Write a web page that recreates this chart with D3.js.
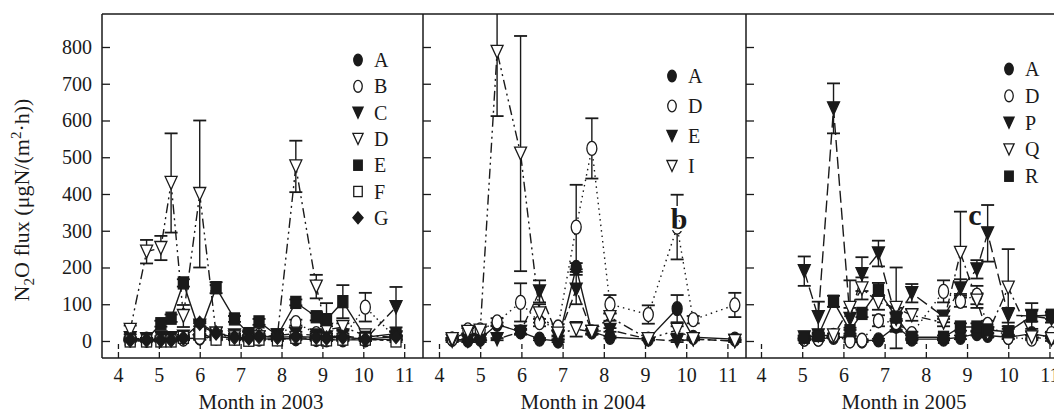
<!DOCTYPE html>
<meta charset="utf-8">
<head>
  <title>N2O flux 2003-2005</title>
</head>
<style>
  body { margin: 0; background: #fff; }
  text { font-family: "Liberation Serif", "DejaVu Serif", serif; fill: #1a1a1a; }
</style>
<body>
<svg id="chart" width="1054" height="415"></svg>
<script src="https://cdnjs.cloudflare.com/ajax/libs/d3/7.8.5/d3.min.js"></script>
<script>
// ---- data ----
var months2003 = [4.3, 4.7, 5.05, 5.3, 5.6, 6.0, 6.4, 6.85, 7.2, 7.45, 7.9, 8.35, 8.85, 9.1, 9.5, 10.05, 10.8];
var a2003 = [3, 2, 3, 4, 6, 8, 12, 8, 6, 5, 6, 6, 4, 3, 3, 3, 5];
var b2003 = [5, 5, 5, 5, 5, 10, 8, 12, 10, 15, 12, 50, 20, 15, 10, 92, 8];
var c2003 = [8, 5, 10, 8, 12, 42, 20, 15, 12, 10, 15, 20, 15, 10, 15, 5, 92];
var d2003 = [30, 243, 253, 430, 68, 400, 20, 10, 8, 10, 15, 475, 148, 30, 38, 15, 10];
var e2003 = [5, 5, 47, 62, 158, 25, 145, 60, 20, 52, 15, 105, 66, 58, 107, 10, 20];
var f2003 = [0, 0, 0, 0, 10, 22, 5, 5, 2, 5, 3, 10, 5, 3, 5, 5, 0];
var g2003 = [3, 3, 3, 3, 8, 48, 22, 10, 8, 12, 10, 12, 10, 8, 10, 5, 12];
var errA2003 = [3, 3, 3, 3, 3, 5, 5, 3, 3, 3, 3, 3, 3, 3, 3, 3, 3];
var errB2003 = [3, 3, 3, 3, 3, 5, 5, 5, 5, 5, 5, 8, 5, 5, 5, 39, 5];
var errC2003 = [3, 3, 3, 3, 5, 10, 5, 5, 5, 5, 5, 5, 5, 5, 5, 5, 55];
var errD2003 = [12, 32, 33, 135, 30, 200, 8, 5, 5, 5, 5, 70, 32, 10, 10, 5, 5];
var errE2003 = [3, 3, 8, 10, 10, 5, 15, 8, 5, 8, 5, 8, 10, 45, 45, 5, 5];
var errF2003 = [2, 2, 2, 2, 3, 5, 3, 3, 3, 3, 3, 3, 3, 3, 3, 3, 3];
var errG2003 = [2, 2, 2, 2, 3, 8, 5, 3, 3, 3, 3, 3, 3, 3, 3, 3, 3];

var months2004 = [4.32, 4.7, 5.0, 5.41, 5.98, 6.44, 6.89, 7.33, 7.71, 8.15, 9.08, 9.78, 10.17, 11.18];
var a2004 = [5, 2, 5, 45, 25, 5, 0, 200, 25, 10, 5, 88, 10, 5];
var d2004 = [5, 30, 30, 52, 105, 50, 38, 310, 524, 100, 72, 310, 58, 98];
var e2004 = [0, 0, 0, 5, 25, 135, 10, 140, 25, 30, 5, 0, 5, 0];
var i2004 = [5, 25, 28, 787, 510, 75, 20, 32, 25, 65, 5, 30, 5, 0];
var errA2004 = [3, 3, 3, 5, 8, 3, 3, 12, 5, 3, 3, 37, 3, 3];
var errD2004 = [3, 10, 10, 10, 52, 10, 8, 115, 82, 25, 25, 88, 10, 33];
var errE2004 = [3, 3, 3, 3, 5, 30, 5, 40, 5, 5, 3, 3, 3, 3];
var errI2004 = [3, 10, 10, 175, 320, 25, 8, 20, 8, 10, 3, 10, 3, 3];

var months2005 = [5.05, 5.39, 5.76, 6.16, 6.45, 6.85, 7.28, 7.66, 8.43, 8.84, 9.24, 9.5, 10.0, 10.57, 11.05];
var a2005 = [5, 5, 10, 10, 0, 3, 40, 5, 5, 10, 20, 15, 10, 20, 10];
var d2005 = [5, 5, 15, 0, 2, 55, 50, 20, 135, 108, 125, 45, 10, 5, 20];
var p2005 = [190, 65, 633, 60, 182, 238, 60, 130, 66, 143, 195, 293, 70, 68, 60];
var q2005 = [10, 15, 15, 90, 143, 105, 90, 70, 50, 240, 110, 20, 145, 10, 5];
var r2005 = [10, 15, 108, 28, 75, 138, 65, 10, 10, 38, 38, 30, 25, 68, 70];
var errA2005 = [3, 3, 3, 3, 3, 3, 15, 3, 3, 5, 5, 5, 3, 5, 3];
var errD2005 = [3, 3, 5, 3, 3, 15, 10, 5, 30, 15, 25, 10, 5, 3, 5];
var errP2005 = [40, 42, 68, 30, 46, 35, 30, 25, 15, 25, 25, 77, 20, 15, 10];
var errQ2005 = [5, 5, 5, 75, 30, 20, 110, 15, 10, 112, 20, 10, 105, 5, 5];
var errR2005 = [3, 3, 15, 8, 10, 20, 10, 5, 5, 10, 10, 8, 8, 35, 10];

var xTicks = [4, 5, 6, 7, 8, 9, 10, 11];
var yTicks = [0, 100, 200, 300, 400, 500, 600, 700, 800];

// ---- layout ----
var svg = d3.select('#chart');
var plotTop = 14, plotBottom = 358;
var y = d3.scaleLinear().domain([-46.3, 889.8]).range([plotBottom, plotTop]);

var panels = [
  { x0: 102, x1: 423, domain: [3.61, 11.46], label: 'Month in 2003', labelX: 261,
    months: months2003,
    legend: { sx: 358, tx: 374, y0: 60, dy: 26.3 },
    series: [
      { name: 'A', v: a2003, e: errA2003, mark: 'circle', fill: true, dash: null },
      { name: 'B', v: b2003, e: errB2003, mark: 'circle', fill: false, dash: '1.5,3' },
      { name: 'C', v: c2003, e: errC2003, mark: 'tri', fill: true, dash: '9,4' },
      { name: 'D', v: d2003, e: errD2003, mark: 'tri', fill: false, dash: '10,4,2,4,2,4' },
      { name: 'E', v: e2003, e: errE2003, mark: 'square', fill: true, dash: null },
      { name: 'F', v: f2003, e: errF2003, mark: 'square', fill: false, dash: '4,3' },
      { name: 'G', v: g2003, e: errG2003, mark: 'diamond', fill: true, dash: null }
    ] },
  { x0: 423, x1: 746, domain: [3.612, 11.451], label: 'Month in 2004', labelX: 583,
    months: months2004,
    legend: { sx: 672, tx: 688, y0: 76, dy: 30 },
    series: [
      { name: 'A', v: a2004, e: errA2004, mark: 'circle', fill: true, dash: null },
      { name: 'D', v: d2004, e: errD2004, mark: 'circle', fill: false, dash: '1.5,4' },
      { name: 'E', v: e2004, e: errE2004, mark: 'tri', fill: true, dash: '9,4' },
      { name: 'I', v: i2004, e: errI2004, mark: 'tri', fill: false, dash: '10,4,2,4,2,4' }
    ] },
  { x0: 746, x1: 1068, domain: [3.636, 11.45], label: 'Month in 2005', labelX: 904,
    months: months2005,
    legend: { sx: 1009, tx: 1025, y0: 69, dy: 26.8 },
    series: [
      { name: 'A', v: a2005, e: errA2005, mark: 'circle', fill: true, dash: null },
      { name: 'D', v: d2005, e: errD2005, mark: 'circle', fill: false, dash: '1.5,4' },
      { name: 'P', v: p2005, e: errP2005, mark: 'tri', fill: true, dash: '12,5' },
      { name: 'Q', v: q2005, e: errQ2005, mark: 'tri', fill: false, dash: '9,4,2,4' },
      { name: 'R', v: r2005, e: errR2005, mark: 'square', fill: true, dash: null }
    ] }
];

var ink = '#1a1a1a';

function drawMark(g, kind, filled, cx, cy, s) {
  var m;
  if (kind === 'circle') {
    m = g.append('ellipse').attr('cx', cx).attr('cy', cy).attr('rx', 5 * s).attr('ry', 7 * s);
  } else if (kind === 'tri') {
    var w = 6 * s, h = 6.5 * s;
    m = g.append('path').attr('d', 'M' + (cx - w) + ',' + (cy - h) + 'L' + (cx + w) + ',' + (cy - h) + 'L' + cx + ',' + (cy + h) + 'Z');
  } else if (kind === 'square') {
    m = g.append('rect').attr('x', cx - 5 * s).attr('y', cy - 6 * s).attr('width', 10 * s).attr('height', 12 * s);
  } else {
    var dw = 6 * s, dh = 7 * s;
    m = g.append('path').attr('d', 'M' + cx + ',' + (cy - dh) + 'L' + (cx + dw) + ',' + cy + 'L' + cx + ',' + (cy + dh) + 'L' + (cx - dw) + ',' + cy + 'Z');
  }
  m.attr('fill', filled ? ink : '#fff').attr('stroke', ink).attr('stroke-width', 1.3);
}

panels.forEach(function(p, pi) {
  var x = d3.scaleLinear().domain(p.domain).range([p.x0, p.x1]);

  var clipId = 'clip' + pi;
  svg.append('clipPath').attr('id', clipId)
    .append('rect').attr('x', p.x0).attr('y', plotTop).attr('width', p.x1 - p.x0).attr('height', plotBottom - plotTop);

  var plot = svg.append('g').attr('clip-path', 'url(#' + clipId + ')');

  // lines
  p.series.forEach(function(s) {
    var line = d3.line()
      .x(function(d, i) { return x(p.months[i]); })
      .y(function(d) { return y(d); });
    plot.append('path')
      .attr('d', line(s.v))
      .attr('fill', 'none')
      .attr('stroke', ink)
      .attr('stroke-width', 1.4)
      .attr('stroke-dasharray', s.dash);
  });

  // error bars
  p.series.forEach(function(s) {
    s.v.forEach(function(v, i) {
      var cx = x(p.months[i]);
      var hi = y(v + s.e[i]), lo = y(v - s.e[i]);
      plot.append('line').attr('x1', cx).attr('x2', cx).attr('y1', hi).attr('y2', lo)
        .attr('stroke', ink).attr('stroke-width', 1.4);
      [hi, lo].forEach(function(yy) {
        plot.append('line').attr('x1', cx - 6.5).attr('x2', cx + 6.5).attr('y1', yy).attr('y2', yy)
          .attr('stroke', ink).attr('stroke-width', 1.8);
      });
    });
  });

  // markers
  p.series.forEach(function(s) {
    s.v.forEach(function(v, i) {
      drawMark(plot, s.mark, s.fill, x(p.months[i]), y(v), 1);
    });
  });

  // axes
  var yAxis = d3.axisLeft(y).tickValues(yTicks).tickSizeInner(-8).tickSizeOuter(0).tickPadding(10);
  var ya = svg.append('g').attr('transform', 'translate(' + p.x0 + ',0)').call(yAxis);
  ya.select('.domain').remove();
  ya.selectAll('.tick line').attr('stroke', ink).attr('stroke-width', 1.3);
  if (pi === 0) {
    ya.selectAll('.tick text').attr('font-size', 20).attr('font-family', 'Liberation Serif').attr('fill', ink);
  } else {
    ya.selectAll('.tick text').remove();
  }

  var xAxis = d3.axisBottom(x).tickValues(xTicks).tickSizeInner(-14).tickSizeOuter(0).tickPadding(10);
  var xa = svg.append('g').attr('transform', 'translate(0,' + plotBottom + ')').call(xAxis);
  xa.select('.domain').remove();
  xa.selectAll('.tick line').attr('stroke', ink).attr('stroke-width', 1.3).attr('stroke-dasharray', '6,3');
  xa.selectAll('.tick text').attr('font-size', 20).attr('font-family', 'Liberation Serif').attr('fill', ink);

  svg.append('text').attr('x', p.labelX).attr('y', 409)
    .attr('text-anchor', 'middle').attr('font-size', 21).text(p.label);

  // legend
  p.series.forEach(function(s, i) {
    var ly = p.legend.y0 + i * p.legend.dy;
    drawMark(svg, s.mark, s.fill, p.legend.sx, ly, 0.85);
    svg.append('text').attr('x', p.legend.tx).attr('y', ly + 7)
      .attr('font-size', 20).text(s.name);
  });
});

// frame
var frame = svg.append('g').attr('stroke', ink).attr('stroke-width', 1.5);
frame.append('line').attr('x1', 102).attr('x2', 1068).attr('y1', plotTop).attr('y2', plotTop);
frame.append('line').attr('x1', 102).attr('x2', 1068).attr('y1', plotBottom).attr('y2', plotBottom);
[102, 423, 746].forEach(function(xx) {
  frame.append('line').attr('x1', xx).attr('x2', xx).attr('y1', plotTop).attr('y2', plotBottom);
});

// panel annotations (white halo so the letter sits on top of the marks)
svg.append('text').attr('x', 679).attr('y', 229).attr('text-anchor', 'middle')
  .attr('font-size', 30).attr('font-weight', 'bold')
  .attr('stroke', '#fff').attr('stroke-width', 4).attr('paint-order', 'stroke')
  .text('b');
svg.append('text').attr('x', 975).attr('y', 225).attr('text-anchor', 'middle')
  .attr('font-size', 30).attr('font-weight', 'bold')
  .attr('stroke', '#fff').attr('stroke-width', 3).attr('paint-order', 'stroke')
  .text('c');

// y label
var yl = svg.append('text').attr('transform', 'translate(29,200) rotate(-90)')
  .attr('text-anchor', 'middle').attr('font-size', 22);
yl.append('tspan').text('N');
yl.append('tspan').attr('dy', 5).attr('font-size', 15).text('2');
yl.append('tspan').attr('dy', -5).text('O flux (μgN/(m');
yl.append('tspan').attr('dy', -8).attr('font-size', 15).text('2');
yl.append('tspan').attr('dy', 8).text('·h))');
</script>
</body>
</html>
